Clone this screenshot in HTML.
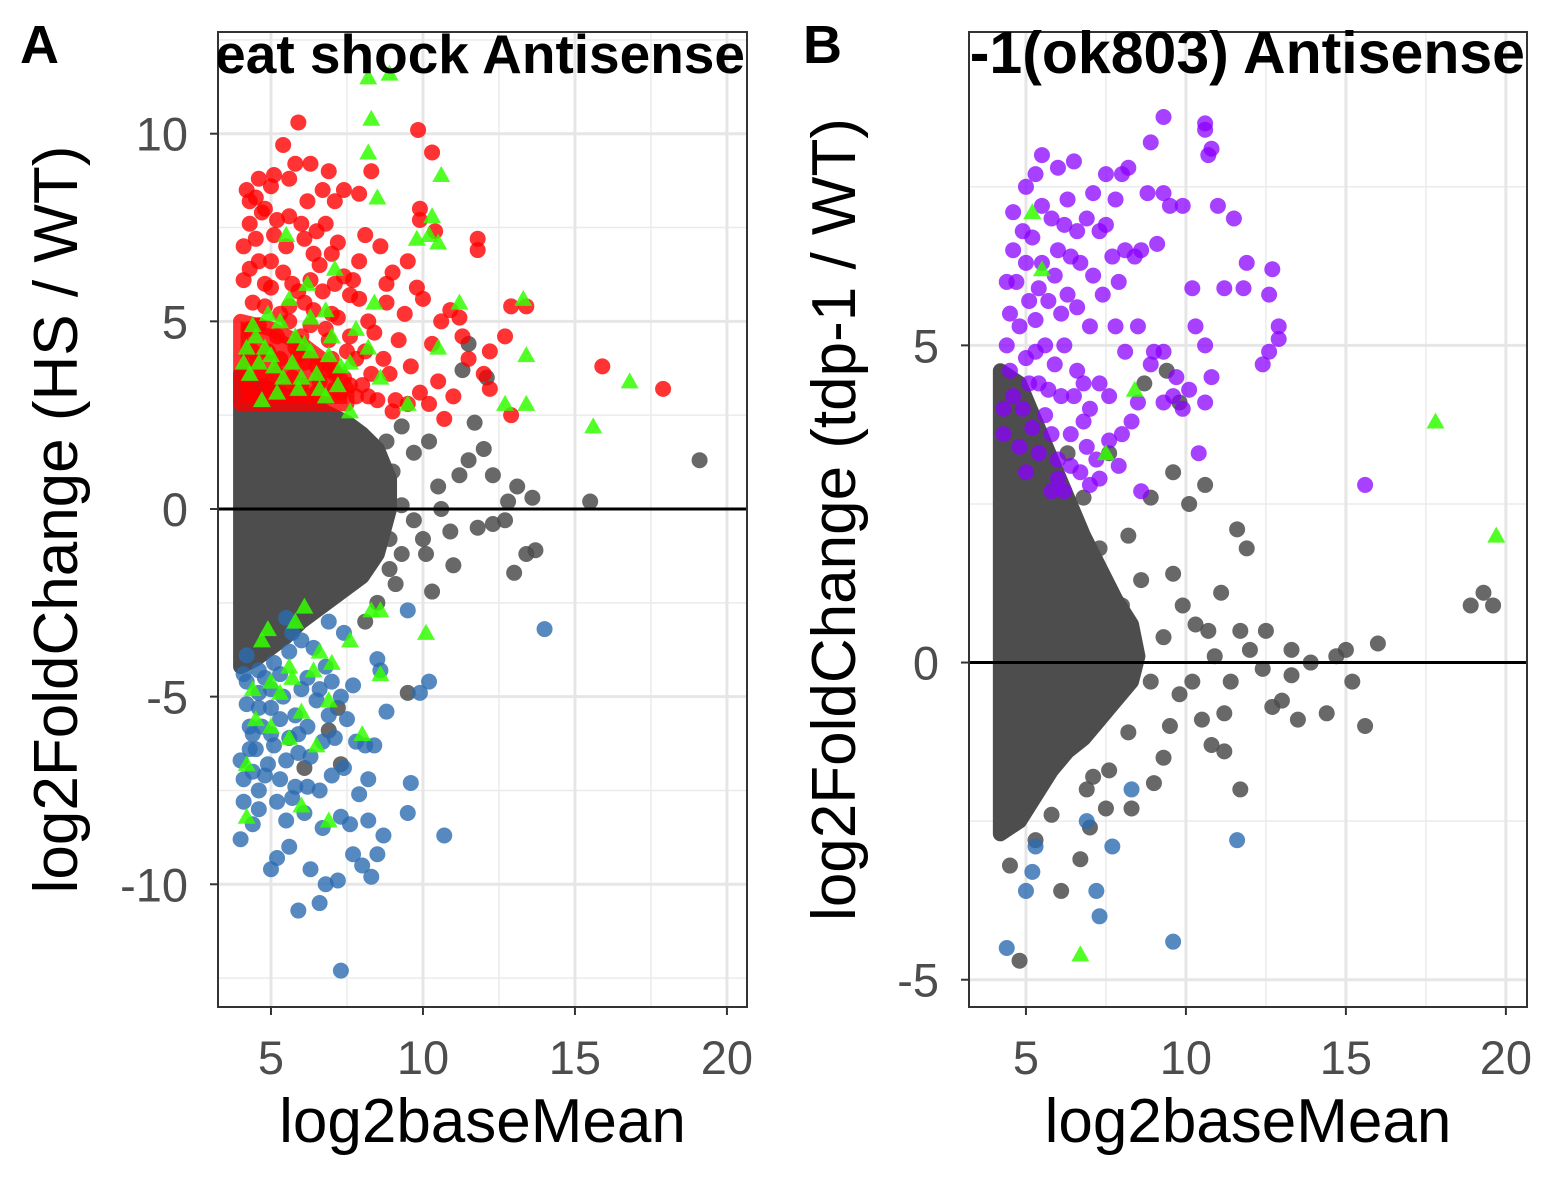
<!DOCTYPE html>
<html><head><meta charset="utf-8"><style>
html,body{margin:0;padding:0;background:#fff;}
svg{display:block;font-family:"Liberation Sans",Arial,sans-serif;}
</style></head><body>
<svg id="chart" width="1560" height="1200" viewBox="0 0 1560 1200"></svg>
<script>
// ---------- Panel A data ----------
const aXTicks=[5,10,15,20];
const aYTicks=[-10,-5,0,5,10];
const aRed=[[5.9,10.3],[9.84,10.1],[10.3,9.5],[8.3,9.0],[6.3,9.2],[5.4,9.7],[4.2,8.5],[4.5,8.3],[4.8,8.0],[5.0,8.6],[5.6,8.8],[6.7,8.5],[7.1,8.2],[7.4,8.5],[9.9,8.0],[9.9,7.7],[10.4,7.4],[11.8,7.2],[11.8,6.9],[12.9,5.4],[13.4,5.4],[12.7,4.6],[12.2,4.2],[11.3,4.6],[10.6,5.0],[10.0,5.6],[15.9,3.8],[17.9,3.2],[12.9,2.5],[12.2,3.2],[11.0,3.0],[10.2,2.8],[10.7,2.4],[9.9,3.1],[9.5,2.8],[9.0,2.6],[8.7,4.0],[8.2,5.0],[7.7,6.1],[7.2,7.1],[6.6,6.5],[6.0,7.6],[5.5,7.0],[4.5,7.2],[4.1,7.0],[4.3,6.4],[4.8,6.0],[5.3,5.2],[6.1,5.5],[7.0,5.2],[7.5,4.2],[8.0,3.3],[6.5,3.8],[5.8,4.3],[4.6,4.9],[5.2,3.6],[6.2,3.0],[7.3,3.1],[8.9,3.6],[9.4,5.2],[9.0,6.3],[8.6,7.0],[8.1,7.3],[7.6,5.7],[6.9,4.5],[6.3,4.9],[5.7,6.0],[5.0,6.6],[4.4,5.5],[9.8,5.9],[10.3,4.4],[11.5,4.0],[12.0,3.6],[8.4,4.7],[7.9,6.6],[6.8,7.6],[5.2,7.7],[4.9,4.2],[9.2,4.5],[10.9,5.3],[11.2,5.1],[8.5,2.9],[7.1,3.6],[9.6,3.8],[6.4,6.8],[7.4,6.2],[5.6,5.4],[4.7,3.6],[8.8,5.5],[10.5,3.4],[7.8,4.0],[9.1,2.9],[6.2,8.2],[7.9,8.4],[4.3,8.2],[5.1,8.9],[6.9,9.0],[8.8,6.0],[9.5,6.6],
[4.2,3.4],[4.5,3.9],[4.9,3.3],[5.3,4.0],[5.7,3.5],[6.1,3.9],[6.6,3.4],[7.0,4.0],[7.4,3.5],[7.8,3.0],[4.3,4.8],[4.8,5.4],[5.2,4.6],[5.6,5.0],[6.0,4.6],[6.4,5.3],[6.8,4.8],[7.2,5.1],[7.6,4.6],[4.1,6.1],[4.6,6.6],[5.0,5.9],[5.4,6.3],[5.9,5.8],[6.3,6.1],[6.7,5.8],[7.1,6.0],[4.3,7.6],[4.7,7.9],[5.1,7.3],[5.6,7.8],[6.1,7.2],[6.5,7.4],[7.0,6.8],[4.4,3.1],[5.0,3.1],[5.5,3.2],[6.0,3.3],[6.5,3.1],[7.1,3.2],[7.6,3.3],[8.2,3.0],[8.3,3.6],[8.1,4.2],[7.9,5.6],[4.6,8.8],[5.8,9.2],[4.4,4.2],[5.9,4.1],[6.9,3.7]];
const aRedCloud=[[4.0,3.0],[4.0,5.0],[5.0,4.8],[6.0,4.4],[7.0,3.8],[7.5,3.2],[7.5,2.8],[4.0,2.8]];
const aBlue=[[4.0,-6.7],[4.1,-7.2],[4.0,-8.8],[4.4,-8.4],[4.6,-7.5],[5.0,-6.0],[5.0,-9.6],[5.2,-9.3],[5.6,-9.0],[5.9,-10.7],[6.3,-9.6],[6.6,-10.5],[6.8,-10.0],[7.3,-12.3],[7.2,-9.9],[7.6,-8.4],[7.7,-9.2],[8.0,-9.5],[8.3,-9.8],[8.5,-9.2],[8.7,-8.7],[8.2,-8.3],[7.9,-7.6],[7.4,-6.9],[7.0,-7.1],[6.6,-7.5],[6.1,-8.1],[5.5,-8.3],[5.2,-7.8],[4.8,-7.1],[4.5,-6.4],[4.3,-5.8],[4.2,-5.2],[4.6,-4.9],[5.0,-5.3],[5.3,-5.6],[5.6,-6.1],[5.9,-6.5],[6.2,-5.8],[6.5,-5.1],[6.9,-5.5],[7.1,-6.1],[7.5,-5.6],[7.8,-6.2],[8.1,-6.3],[8.4,-6.3],[8.2,-7.2],[8.5,-4.0],[8.6,-4.3],[9.5,-8.1],[9.6,-7.3],[9.5,-2.7],[9.9,-4.9],[10.2,-4.6],[10.7,-8.7],[14.0,-3.2],[6.8,-4.2],[6.4,-3.7],[5.7,-3.3],[5.3,-4.4],[4.8,-4.5],[7.7,-4.7],[4.4,-6.0],[5.8,-7.4],[6.7,-8.5],[7.3,-8.2],[8.8,-5.4],[4.1,-4.4],[5.5,-2.9],[6.0,-4.8],
[4.2,-4.6],[4.6,-5.3],[5.0,-4.8],[5.4,-5.0],[5.8,-5.5],[6.2,-4.5],[6.6,-4.8],[7.0,-4.6],[7.3,-5.0],[4.3,-6.4],[4.7,-5.8],[5.1,-6.3],[5.5,-6.7],[5.9,-6.0],[6.3,-6.6],[6.7,-6.2],[4.4,-7.0],[4.9,-6.8],[5.3,-7.2],[5.7,-7.7],[6.2,-7.4],[4.1,-7.8],[4.6,-8.0],[4.2,-3.9],[5.6,-3.8],[6.0,-3.5],[7.4,-3.3],[6.9,-3.0],[5.1,-4.1],[4.6,-4.3]];
const aGreen=[[8.2,11.5],[8.9,11.6],[8.3,10.4],[8.2,9.5],[10.6,8.9],[8.5,8.3],[10.3,7.8],[10.2,7.3],[9.8,7.2],[10.5,7.1],[11.2,5.5],[13.3,5.6],[13.4,4.1],[13.4,2.8],[12.7,2.8],[15.6,2.2],[16.8,3.4],[10.1,-3.3],[8.4,5.5],[8.2,4.3],[7.8,4.8],[8.6,3.5],[9.5,2.8],[10.5,4.3],[7.1,6.4],[6.2,6.0],[5.5,7.3],[4.5,4.6],[4.8,4.3],[5.3,5.0],[5.8,4.6],[6.3,4.2],[6.8,5.3],[7.3,3.8],[4.2,4.3],[5.1,3.8],[6.0,3.5],[6.6,3.2],[7.6,2.6],[8.6,-2.7],[7.6,-3.5],[7.0,-4.1],[6.4,-4.3],[5.6,-4.2],[5.0,-4.6],[4.4,-4.8],[4.2,-8.2],[6.5,-6.3],[6.0,-7.9],[6.9,-8.3],[8.0,-6.0],[8.6,-4.4],[5.8,-3.0],[5.0,-5.8],[4.7,-3.5],[6.1,-2.6],[4.9,-3.2],[8.3,-2.7],[5.6,-6.1],
[4.3,3.6],[4.6,3.9],[5.0,4.1],[5.4,3.5],[5.7,3.9],[6.1,4.4],[6.5,3.6],[6.9,4.1],[7.2,3.3],[4.4,4.9],[4.9,5.2],[5.6,5.6],[6.3,5.1],[7.0,4.6],[4.1,3.9],[5.2,3.1],[6.8,3.0],[4.7,2.9],[5.9,3.2],[7.6,3.9],[4.5,-5.6],[5.3,-4.9],[6.0,-5.4],[6.6,-3.8],[4.2,-6.8],[5.7,-4.5],[6.9,-5.1]];
const aGray=[[19.1,1.3],[15.5,0.2],[13.7,-1.1],[13.4,-1.2],[13.0,-1.7],[12.7,-0.3],[13.1,0.6],[13.6,0.3],[12.3,0.9],[12.0,1.6],[11.5,1.3],[11.2,0.9],[10.6,0.0],[10.9,-0.6],[11.0,-1.5],[10.3,-2.2],[10.1,-1.2],[9.7,-0.3],[9.3,0.1],[9.7,1.5],[10.2,1.8],[10.5,0.6],[11.3,3.7],[11.5,4.4],[12.1,3.5],[11.7,2.3],[12.3,-0.4],[12.8,0.2],[8.5,-2.5],[9.1,-2.0],[9.3,-1.2],[8.9,-0.8],[8.6,0.5],[9.0,1.0],[8.8,1.8],[9.3,2.2],[8.9,-1.6],[10.0,-0.8],[11.8,-0.5],[7.3,-6.8],[6.1,-6.9],[8.1,-3.0],[9.5,-4.9],[7.2,-5.3],[6.9,-5.9]];
const aGrayCloud=[[4.0,3.6],[4.5,3.3],[5.0,3.2],[5.5,3.0],[6.0,2.9],[6.5,2.7],[7.0,2.5],[7.5,2.3],[8.0,2.0],[8.5,1.6],[8.9,0.8],[8.9,0.0],[8.5,-1.2],[8.0,-1.8],[7.5,-2.1],[7.0,-2.4],[6.5,-2.7],[6.0,-3.0],[5.5,-3.4],[5.0,-3.7],[4.5,-4.0],[4.0,-4.2]];
// ---------- Panel B data ----------
const bXTicks=[5,10,15,20];
const bYTicks=[-5,0,5];
const bPurple=[[9.3,8.6],[10.6,8.5],[10.6,8.4],[10.7,8.0],[10.8,8.1],[8.9,8.2],[8.2,7.8],[7.8,7.3],[8.0,7.7],[7.5,7.7],[7.1,7.4],[6.5,7.9],[6.0,7.8],[5.5,8.0],[5.3,7.7],[5.0,7.5],[4.6,7.1],[4.9,6.8],[4.6,6.5],[4.4,6.0],[5.2,6.7],[5.5,6.3],[5.8,7.0],[6.2,6.9],[6.6,6.8],[6.9,7.0],[7.3,6.8],[7.7,6.4],[8.1,6.5],[8.4,6.4],[8.6,6.5],[8.8,7.4],[9.3,7.4],[9.5,7.2],[9.9,7.2],[11.0,7.2],[11.5,7.0],[11.9,6.3],[12.7,6.2],[11.8,5.9],[12.6,5.8],[12.9,5.3],[12.9,5.1],[12.6,4.9],[12.4,4.7],[11.2,5.9],[10.2,5.9],[10.3,5.3],[10.6,5.0],[10.8,4.5],[10.6,4.1],[10.4,3.3],[10.1,4.3],[9.9,4.0],[9.6,4.2],[9.3,4.1],[9.7,4.5],[9.3,4.9],[8.9,4.7],[8.5,5.3],[8.1,4.9],[7.8,5.3],[7.6,4.2],[8.3,3.8],[8.0,3.6],[7.6,3.5],[7.2,3.2],[6.7,3.0],[6.2,2.7],[5.8,3.6],[5.2,3.7],[4.9,4.0],[4.5,4.6],[4.4,5.0],[4.8,5.3],[5.1,5.7],[5.6,5.0],[6.1,5.5],[6.6,5.6],[7.0,5.3],[7.4,5.8],[7.9,6.0],[6.6,4.6],[6.1,4.2],[5.7,4.3],[6.8,3.8],[7.3,4.4],[15.6,2.8],[8.6,2.7],[5.9,6.1],[6.4,6.4],[5.4,5.9],[9.1,6.6],[9.0,4.9],[8.5,4.1],[7.0,2.8],[7.9,3.1],[4.3,4.0],[4.5,5.5],[5.0,4.8],[5.4,4.4],[6.0,3.2],[6.4,3.6],[7.0,4.0],
[4.3,3.6],[4.6,4.2],[4.8,3.4],[5.1,4.4],[5.3,4.9],[5.6,3.9],[5.9,4.7],[6.2,5.0],[6.5,4.2],[6.8,4.4],[4.7,6.0],[5.0,6.3],[5.3,5.4],[5.7,5.7],[6.0,6.5],[6.3,5.8],[6.7,6.3],[7.1,6.1],[7.5,6.9],[5.5,7.2],[6.3,7.3],[5.0,3.0],[5.4,3.3],[6.0,2.9],[6.4,3.1],[6.9,3.4],[7.3,2.9],[5.8,2.7]];
const bGreen=[[5.2,7.1],[5.5,6.2],[8.4,4.3],[7.5,3.3],[17.8,3.8],[19.7,2.0],[6.7,-4.6]];
const bBlue=[[4.4,-4.5],[5.2,-3.3],[5.3,-2.9],[5.0,-3.6],[6.9,-2.5],[7.7,-2.9],[9.6,-4.4],[7.3,-4.0],[7.2,-3.6],[8.3,-2.0],[11.6,-2.8]];
const bGray=[[19.6,0.9],[19.3,1.1],[18.9,0.9],[16.0,0.3],[15.0,0.2],[15.2,-0.3],[15.6,-1.0],[14.4,-0.8],[13.9,0.0],[13.3,0.2],[13.0,-0.6],[13.3,-0.2],[12.7,-0.7],[12.5,0.5],[12.0,0.2],[11.7,0.5],[11.9,1.8],[11.6,2.1],[11.1,1.1],[10.7,0.5],[10.9,0.1],[10.2,-0.3],[10.8,-1.3],[11.2,-1.4],[11.7,-2.0],[11.2,-0.8],[10.1,2.5],[10.6,2.8],[9.6,1.4],[9.3,0.4],[8.9,-0.3],[9.5,-1.0],[9.8,-0.5],[9.3,-1.5],[9.0,-1.9],[8.2,-1.1],[8.3,-2.3],[7.6,-1.7],[7.5,-2.3],[7.1,-1.8],[6.9,-2.0],[6.7,-3.1],[6.1,-3.6],[4.8,-4.7],[4.5,-3.2],[8.2,2.0],[7.3,1.8],[7.6,3.3],[8.9,2.6],[9.4,4.6],[9.6,3.0],[8.6,1.3],[13.5,-0.9],[12.4,-0.1],[11.4,-0.3],[10.5,-0.9],[14.7,0.1],[8.7,4.4],[9.8,4.1],[10.3,0.6],[9.9,0.9],[8.3,0.4],[8.0,0.9],[5.7,3.0],[6.3,3.3],[5.5,2.4],[6.8,2.6],[7.0,-2.6],[5.8,-2.4],[5.3,-2.8]];
const bGrayCloud=[[4.2,4.6],[4.8,4.4],[5.3,3.8],[5.8,3.2],[6.3,2.6],[6.8,2.0],[7.3,1.5],[7.8,1.0],[8.3,0.6],[8.5,0.1],[8.3,-0.3],[7.8,-0.6],[7.3,-0.9],[6.8,-1.2],[6.3,-1.4],[5.8,-1.7],[5.3,-2.1],[4.8,-2.5],[4.2,-2.7]];

const svg=document.getElementById('chart');
const NS='http://www.w3.org/2000/svg';
function mk(tag,attrs,parent){const e=document.createElementNS(NS,tag);for(const k in attrs)e.setAttribute(k,attrs[k]);(parent||svg).appendChild(e);return e;}

function panel(cfg){
  const {L,R,T,B,xmin,xmax,ymin,ymax,id}=cfg;
  const sx=v=>L+(v-xmin)/(xmax-xmin)*(R-L);
  const sy=v=>B-(v-ymin)/(ymax-ymin)*(B-T);
  const g=mk('g',{});
  
  
  const cp=mk('clipPath',{id:'clip'+id},g);
  mk('rect',{x:L,y:T,width:R-L,height:B-T},cp);
  const grid=mk('g',{},g);
  
  
  cfg.xMinor.forEach(v=>{if(v>xmin&&v<xmax)mk('line',{x1:sx(v),x2:sx(v),y1:T,y2:B,stroke:'#EBEBEB','stroke-width':1.5},grid);});
  cfg.yMinor.forEach(v=>{if(v>ymin&&v<ymax)mk('line',{x1:L,x2:R,y1:sy(v),y2:sy(v),stroke:'#EBEBEB','stroke-width':1.5},grid);});
  cfg.xTicks.forEach(v=>mk('line',{x1:sx(v),x2:sx(v),y1:T,y2:B,stroke:'#E6E6E6','stroke-width':3},grid));
  cfg.yTicks.forEach(v=>mk('line',{x1:L,x2:R,y1:sy(v),y2:sy(v),stroke:'#E6E6E6','stroke-width':3},grid));
  const pl=mk('g',{'clip-path':'url(#clip'+id+')'},g);
  const cloud=(pts,col,op,name)=>{
    const p=mk('polygon',{points:pts.map(d=>sx(d[0])+','+sy(d[1])).join(' '),fill:col,stroke:col,'stroke-width':15,'stroke-linejoin':'round','fill-opacity':op,'stroke-opacity':op},pl);
    
    
  };
  const dots=(pts,col,op,name)=>{
    const gg=mk('g',{},pl);
    
    
    pts.forEach(d=>mk('circle',{cx:sx(d[0]),cy:sy(d[1]),r:8,fill:col,'fill-opacity':op},gg));
  };
  const tris=(pts,col,name)=>{
    const gg=mk('g',{},pl);
    
    
    pts.forEach(d=>{const x=sx(d[0]),y=sy(d[1]);mk('polygon',{points:`${x},${y-9} ${x-9},${y+7} ${x+9},${y+7}`,fill:col,'fill-opacity':0.85},gg);});
  };
  cfg.draw(cloud,dots,tris);
  mk('line',{x1:L,x2:R,y1:sy(0),y2:sy(0),stroke:'#000','stroke-width':3},pl);
  mk('rect',{x:L,y:T,width:R-L,height:B-T,fill:'none',stroke:'#333','stroke-width':2},g);
  cfg.xTicks.forEach(v=>{mk('line',{x1:sx(v),x2:sx(v),y1:B,y2:B+8,stroke:'#333','stroke-width':2},g);
    const t=mk('text',{x:sx(v),y:B+67,'text-anchor':'middle','font-size':47,fill:'#4D4D4D'},g);t.textContent=v;
    });
  cfg.yTicks.forEach(v=>{mk('line',{x1:L-8,x2:L,y1:sy(v),y2:sy(v),stroke:'#333','stroke-width':2},g);
    const t=mk('text',{x:L-30,y:sy(v)+17,'text-anchor':'end','font-size':47,fill:'#4D4D4D'},g);t.textContent=v;
    });
  const xt=mk('text',{x:(L+R)/2,y:1142,'text-anchor':'middle','font-size':62,fill:'#000'},g);xt.textContent='log2baseMean';
  
  const yt=mk('text',{transform:`translate(${cfg.ytX},${(T+B)/2}) rotate(-90)`,'text-anchor':'middle','font-size':62,fill:'#000'},g);yt.textContent=cfg.ytitle;
  
  const tc=mk('clipPath',{id:'tclip'+id},g);
  mk('rect',{x:L,y:0,width:R-L+30,height:120},tc);
  const tt=mk('text',{x:R-2,y:73,'text-anchor':'end','font-size':cfg.titleSize,'font-weight':'bold',fill:'#000','clip-path':'url(#tclip'+id+')'},g);tt.textContent=cfg.title;
  
  const tag=mk('text',{x:cfg.tagX,y:63,'font-size':54,'font-weight':'bold',fill:'#000'},g);tag.textContent=id;
  
}

panel({id:'A',L:218,R:747,T:32,B:1007,xmin:3.257,xmax:20.66,ymin:-13.27,ymax:12.71,
  xTicks:aXTicks,yTicks:aYTicks,xMinor:[2.5,7.5,12.5,17.5],yMinor:[-12.5,-7.5,-2.5,2.5,7.5,12.5],
  ytitle:'log2FoldChange (HS / WT)',ytX:77,title:'Heat shock Antisense',titleSize:55,tagX:20,
  draw:(cloud,dots,tris)=>{
    cloud(aGrayCloud,'#4D4D4D',1,'gray-cloud');
    dots(aGray,'#4D4D4D',0.85,'gray-points');
    dots(aBlue,'#2B6CB0',0.8,'blue-points');
    cloud(aRedCloud,'#FF0000',0.8,'red-cloud');
    dots(aRed,'#FF0000',0.8,'red-points');
    tris(aGreen,'#33FF00','green-triangles');
  }});
panel({id:'B',L:969,R:1527,T:32,B:1007,xmin:3.22,xmax:20.66,ymin:-5.43,ymax:9.94,
  xTicks:bXTicks,yTicks:bYTicks,xMinor:[2.5,7.5,12.5,17.5],yMinor:[-2.5,2.5,7.5],
  ytitle:'log2FoldChange (tdp-1 / WT)',ytX:855,title:'tdp-1(ok803) Antisense',titleSize:59,tagX:803,
  draw:(cloud,dots,tris)=>{
    cloud(bGrayCloud,'#4D4D4D',1,'gray-cloud');
    dots(bGray,'#4D4D4D',0.85,'gray-points');
    dots(bBlue,'#2B6CB0',0.8,'blue-points');
    dots(bPurple,'#8B00FF',0.75,'purple-points');
    tris(bGreen,'#33FF00','green-triangles');
  }});
</script>
</body></html>
